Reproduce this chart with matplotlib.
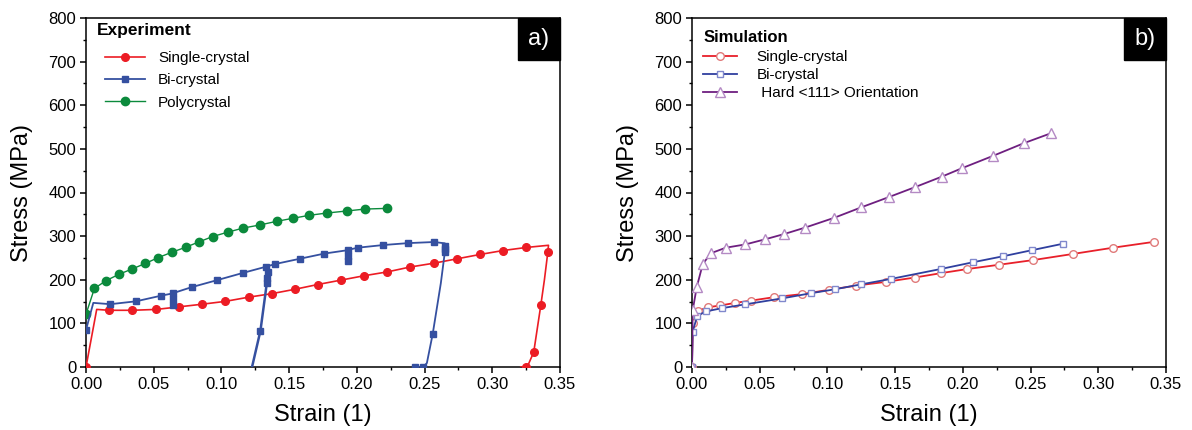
import matplotlib
matplotlib.use("Agg")
import matplotlib.pyplot as plt
from matplotlib.patches import Rectangle
from matplotlib.ticker import MultipleLocator

plt.rcParams['font.family'] = ['Liberation Sans', 'DejaVu Sans']

# ---------------- Experiment data ----------------
exp_single_x = [0, 0.0079, 0.017, 0.034, 0.052, 0.069, 0.086, 0.103, 0.120, 0.137, 0.154,
                0.171, 0.188, 0.205, 0.2225, 0.239, 0.257, 0.274, 0.291, 0.308, 0.325,
                0.3415, 0.341, 0.3385, 0.3358, 0.3306, 0.3265, 0.325, 0.321]
exp_single_y = [0, 132, 130, 130, 132, 138, 144, 150.5, 160, 168, 178,
                189, 199, 209, 218, 229, 238, 248, 258, 267, 274,
                279, 263, 200, 141, 34, 5, 0, 0]
exp_single_mk = [0, 2, 3, 4, 5, 6, 7, 8, 9, 10, 11, 12, 13, 14, 15, 16, 17, 18, 19, 20, 22, 24, 25, 27]

exp_bi_x = [0, 0.0054, 0.018, 0.037, 0.0555, 0.0645, 0.0645, 0.0645, 0.0650, 0.078, 0.0967,
            0.1157, 0.133, 0.1396, 0.1577, 0.176, 0.1937, 0.1937, 0.1937, 0.1942, 0.2008,
            0.2196, 0.238, 0.257, 0.265, 0.265, 0.265, 0.265, 0.262, 0.256, 0.2517, 0.249, 0.243]
exp_bi_y = [85, 147, 144, 150.6, 163.5, 169, 155, 141, 170, 183, 199,
            215.5, 230, 236, 248, 260, 268, 255, 242, 269, 273.5,
            279.6, 284, 286.5, 283.5, 277, 270, 264, 192, 75.6, 9, 0, 0]
exp_bi_mk = [0, 2, 3, 4, 5, 6, 7, 9, 10, 11, 12, 13, 14, 15, 16, 17, 18, 20, 21, 22, 23,
             25, 26, 27, 29, 31, 32]

exp_bi2_x = [0.1226, 0.1288, 0.1335, 0.1340, 0.1345, 0.1335]
exp_bi2_y = [0, 83, 192, 205, 218, 230]
exp_bi2_mk = [1, 2, 3, 4]

exp_poly_x = [0, 0.0062, 0.0148, 0.0247, 0.0343, 0.0439, 0.0535, 0.0634, 0.074, 0.0836,
              0.0935, 0.1046, 0.1162, 0.1283, 0.1409, 0.153, 0.1648, 0.178, 0.1925,
              0.2058, 0.222]
exp_poly_y = [121, 180, 198, 213, 225, 237.5, 251, 263, 275, 287,
              299, 309, 318.6, 325.5, 334, 341, 347.7, 353, 357.6,
              362, 363.6]

# ---------------- Simulation data ----------------
sim_single_x = [0, 0.0005, 0.0047, 0.0118, 0.021, 0.0318, 0.0432, 0.0605, 0.081, 0.1014,
                0.121, 0.1429, 0.1643, 0.1836, 0.2032, 0.227, 0.2517, 0.281, 0.311, 0.3414]
sim_single_y = [0, 100, 129, 137, 141, 147, 152, 160, 167, 177,
                186.5, 195, 205, 215, 224.5, 234.5, 245, 259, 273.5, 287]

sim_bi_x = [0, 0.0005, 0.0039, 0.0106, 0.0224, 0.0395, 0.0668, 0.0876, 0.1053, 0.125,
            0.1466, 0.1836, 0.2078, 0.2295, 0.2514, 0.274]
sim_bi_y = [0, 81, 117.6, 127.6, 135, 143.7, 157.4, 169, 178, 189.5,
            201.7, 224.6, 240.3, 253.7, 268, 282.6]

sim_hard_x = [0, 0.0005, 0.0035, 0.0079, 0.0138, 0.025, 0.0395, 0.054, 0.0683, 0.0834,
              0.105, 0.125, 0.1458, 0.1647, 0.1846, 0.1996, 0.2223, 0.245, 0.2652]
sim_hard_y = [0, 130, 183, 235.5, 260.6, 273.5, 281, 292.7, 305, 319.4,
              342, 366, 390, 412.3, 436.5, 456, 484, 513, 536]

xticks = [0.00, 0.05, 0.10, 0.15, 0.20, 0.25, 0.30, 0.35]
yticks = [0, 100, 200, 300, 400, 500, 600, 700, 800]

RED = '#ec1c24'
BLUE = '#3550a0'
GREEN = '#0b8a3c'

fig = plt.figure(figsize=(11.92, 4.30), dpi=100)
W, H = 1192, 430
AW, AH = 474, 349
ax1 = fig.add_axes([86 / W, 63 / H, AW / W, AH / H])
ax2 = fig.add_axes([692 / W, 63 / H, AW / W, AH / H])


def style_axes(ax, tag):
    ax.set_xlim(0, 0.35)
    ax.set_ylim(0, 800)
    ax.set_xticks(xticks)
    ax.set_xticklabels(['%.2f' % v for v in xticks])
    ax.set_yticks(yticks)
    ax.xaxis.set_minor_locator(MultipleLocator(0.025))
    ax.yaxis.set_minor_locator(MultipleLocator(50))
    ax.tick_params(which='major', direction='out', length=4, width=1.1, labelsize=12,
                   top=False, right=False, pad=3)
    ax.tick_params(which='minor', direction='out', length=2.5, width=1.0,
                   top=False, right=False)
    for s in ax.spines.values():
        s.set_linewidth(1.1)
    ax.set_xlabel('Strain (1)', fontsize=17, labelpad=9)
    ax.set_ylabel('Stress (MPa)', fontsize=17, labelpad=11)
    bw, bh = 42 / AW, 42 / AH
    ax.add_patch(Rectangle((1 - bw, 1 - bh), bw, bh, transform=ax.transAxes,
                           facecolor='black', edgecolor='black', clip_on=False, zorder=10))
    ax.text(1 - bw / 2, 1 - bh / 2, tag, transform=ax.transAxes, color='white',
            fontsize=17, ha='center', va='center', zorder=11)


style_axes(ax1, 'a)')
style_axes(ax2, 'b)')

# ---- Experiment panel ----
ax1.plot(exp_single_x, exp_single_y, color=RED, lw=1.2, marker='o', ms=5.5,
         markevery=exp_single_mk, label='Single-crystal', zorder=3)
ax1.plot(exp_bi_x, exp_bi_y, color=BLUE, lw=1.3, marker='s', ms=4.8,
         markevery=exp_bi_mk, label='Bi-crystal', zorder=4)
ax1.plot(exp_bi2_x, exp_bi2_y, color=BLUE, lw=1.8, marker='s', ms=4.8,
         markevery=exp_bi2_mk, zorder=4)
ax1.plot(exp_poly_x, exp_poly_y, color=GREEN, lw=1.0, marker='o', ms=6,
         label='Polycrystal', zorder=3)

ax1.text((97 - 86) / AW, 1 - 13 / AH, 'Experiment', transform=ax1.transAxes,
         fontsize=12.5, fontweight='bold', ha='left', va='center')
ax1.legend(loc='upper left', bbox_to_anchor=((105 - 86) / AW, 1 - 33 / AH), frameon=False,
           fontsize=11, handlelength=2.62, handletextpad=0.85, labelspacing=0.55,
           borderaxespad=0, borderpad=0)

# ---- Simulation panel ----
ax2.plot(sim_single_x, sim_single_y, color='#e8202a', lw=1.3, marker='o', ms=5.5,
         mfc='white', mec='#e07a7a', mew=1.0, label='Single-crystal', zorder=3)
ax2.plot(sim_bi_x, sim_bi_y, color='#2f3f9f', lw=1.3, marker='s', ms=5,
         mfc='white', mec='#8088cc', mew=1.0, label='Bi-crystal', zorder=4)
ax2.plot(sim_hard_x, sim_hard_y, color='#6e1f80', lw=1.3, marker='^', ms=6.5,
         mfc='white', mec='#b48ac4', mew=1.0, label=' Hard <111> Orientation', zorder=5)

ax2.text((704 - 692) / AW, 1 - 19 / AH, 'Simulation', transform=ax2.transAxes,
         fontsize=12, fontweight='bold', ha='left', va='center')
ax2.legend(loc='upper left', bbox_to_anchor=((703 - 692) / AW, 1 - 32 / AH), frameon=False,
           fontsize=11, handlelength=2.22, handletextpad=1.3, labelspacing=0.27,
           borderaxespad=0, borderpad=0)

fig.savefig('out.png', dpi=100)
